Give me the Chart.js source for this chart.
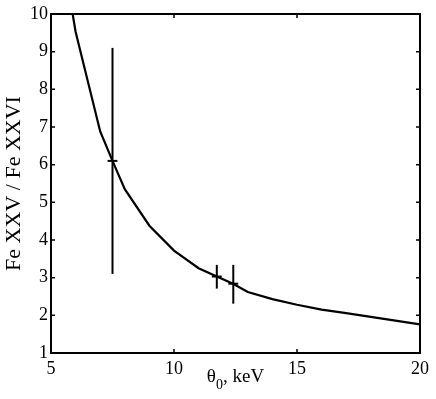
<!DOCTYPE html>
<html>
<head>
<meta charset="utf-8">
<script src="https://cdn.jsdelivr.net/npm/chart.js@4.4.1/dist/chart.umd.min.js"></script>
<style>
  html, body { margin: 0; padding: 0; background: #fff; }
  #wrap { width: 436px; height: 399px; }
</style>
</head>
<body>
<div id="wrap"><canvas id="myChart"></canvas></div>
<script>
// curve: ratio vs temperature
var curveX = [5.88, 6.0, 7.0, 7.5, 8.0, 9.0, 10.0, 11.0, 11.74, 12.4, 13.0, 14.0, 15.0, 16.0, 17.0, 18.0, 19.0, 20.0];
var curveY = [10.0, 9.53, 6.88, 6.1, 5.35, 4.38, 3.72, 3.25, 3.03, 2.84, 2.62, 2.43, 2.28, 2.15, 2.06, 1.96, 1.86, 1.76];

// measured points with error bars
var measX = [7.5, 11.74, 12.41];
var measY = [6.1, 3.03, 2.84];
var measLo = [3.1, 2.71, 2.31];
var measHi = [9.1, 3.34, 3.34];

var xTicks = [5, 10, 15, 20];
var yTicks = [1, 2, 3, 4, 5, 6, 7, 8, 9, 10];

var datasets = [];
datasets.push({
  data: curveX.map(function (x, i) { return { x: x, y: curveY[i] }; }),
  borderColor: "#000", borderWidth: 2.2, pointRadius: 0, tension: 0
});
measX.forEach(function (x, i) {
  // vertical bar
  datasets.push({
    data: [{ x: x, y: measLo[i] }, { x: x, y: measHi[i] }],
    borderColor: "#000", borderWidth: 2, pointRadius: 0
  });
  // horizontal mark
  datasets.push({
    data: [{ x: x - 0.2, y: measY[i] }, { x: x + 0.2, y: measY[i] }],
    borderColor: "#000", borderWidth: 2, pointRadius: 0
  });
});

// box, inward ticks on all four sides, x title with subscript
var boxPlugin = {
  id: "box",
  afterDraw: function (chart) {
    var c = chart.ctx, a = chart.chartArea;
    var sx = chart.scales.x, sy = chart.scales.y;
    c.save();
    c.strokeStyle = "#000";
    c.lineWidth = 2;
    c.strokeRect(a.left, a.top, a.right - a.left, a.bottom - a.top);
    c.lineWidth = 1.5;
    c.beginPath();
    xTicks.forEach(function (v) {
      var p = sx.getPixelForValue(v);
      c.moveTo(p, a.bottom); c.lineTo(p, a.bottom - 4);
      c.moveTo(p, a.top); c.lineTo(p, a.top + 4);
    });
    yTicks.forEach(function (v) {
      var p = sy.getPixelForValue(v);
      c.moveTo(a.left, p); c.lineTo(a.left + 4, p);
      c.moveTo(a.right, p); c.lineTo(a.right - 4, p);
    });
    c.stroke();

    // x title: θ0, keV
    var big = "19px 'Liberation Serif'", small = "14px 'Liberation Serif'";
    c.fillStyle = "#000";
    c.textBaseline = "alphabetic";
    c.font = big; var w1 = c.measureText("θ").width, w3 = c.measureText(", keV").width;
    c.font = small; var w2 = c.measureText("0").width;
    var x0 = (a.left + a.right) / 2 - (w1 + w2 + w3) / 2, base = 382;
    c.textAlign = "left";
    c.font = big; c.fillText("θ", x0, base);
    c.font = small; c.fillText("0", x0 + w1, base + 7);
    c.font = big; c.fillText(", keV", x0 + w1 + w2, base);
    c.restore();
  }
};

var ctx = document.getElementById("myChart");
var myChart = new Chart(ctx, {
  type: "line",
  data: { datasets: datasets },
  options: {
    responsive: true,
    maintainAspectRatio: false,
    animation: false,
    layout: { padding: { top: 14, right: 16, left: 0, bottom: 0 } },
    plugins: { legend: { display: false }, tooltip: { enabled: false } },
    scales: {
      x: {
        type: "linear", min: 5, max: 20,
        afterBuildTicks: function (s) { s.ticks = xTicks.map(function (v) { return { value: v }; }); },
        afterFit: function (s) { s.height = 46; },
        grid: { display: false, drawTicks: false, tickLength: 0 },
        border: { display: false },
        ticks: { color: "#000", padding: 5, maxRotation: 0, font: { family: "Liberation Serif", size: 18 } },
        title: { display: false }
      },
      y: {
        type: "linear", min: 1, max: 10,
        afterBuildTicks: function (s) { s.ticks = yTicks.map(function (v) { return { value: v }; }); },
        afterFit: function (s) { s.width = 51; },
        grid: { display: false, drawTicks: false, tickLength: 0 },
        border: { display: false },
        ticks: { color: "#000", padding: 3, font: { family: "Liberation Serif", size: 18 } },
        title: { display: true, text: "Fe XXV / Fe XXVI", color: "#000", padding: { top: 1, bottom: 0 }, font: { family: "Liberation Serif", size: 22 } }
      }
    }
  },
  plugins: [boxPlugin]
});
</script>
</body>
</html>
